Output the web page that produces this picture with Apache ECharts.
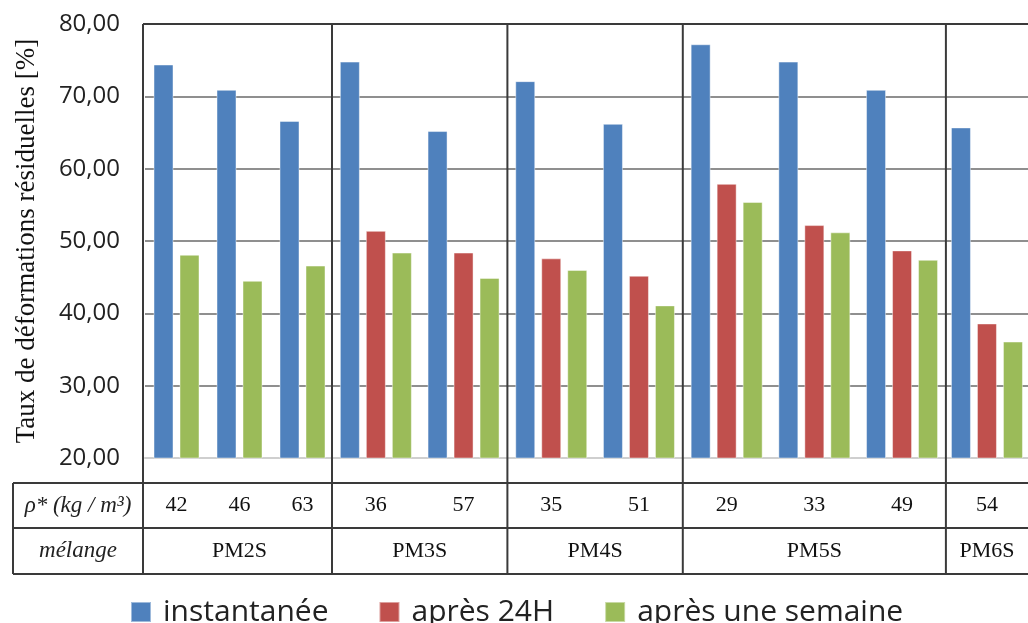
<!DOCTYPE html>
<html>
<head>
<meta charset="utf-8">
<script src="https://cdn.jsdelivr.net/npm/echarts@6/dist/echarts.min.js"></script>
<style>html,body{margin:0;padding:0;background:#fff}#c{width:1028px;height:623px}</style>
</head>
<body>
<div id="c"></div>
<script>
// ---- data ----
const groups = ['PM2S', 'PM3S', 'PM4S', 'PM5S', 'PM6S'];
const groupSizes = [3, 2, 2, 3, 1];
const densities = ['42', '46', '63', '36', '57', '35', '51', '29', '33', '49', '54'];
const instantanee  = [74.4, 70.9, 66.6, 74.8, 65.2, 72.1, 66.2, 77.2, 74.8, 70.9, 65.7];
const apres24H     = [null, null, null, 51.4, 48.4, 47.6, 45.2, 57.9, 52.2, 48.7, 38.6];
const apresSemaine = [48.1, 44.5, 46.6, 48.4, 44.9, 46.0, 41.1, 55.4, 51.2, 47.4, 36.1];
const seriesNames = ['instantanée', 'après 24H', 'après une semaine'];
const yMin = 20, yMax = 80, yStep = 10;
const yTitle = 'Taux de déformations résiduelles [%]';
const rowTitles = ['ρ* (kg / m³)', 'mélange'];

// ---- layout / style ----
const colors = ['#4F81BD', '#C0504D', '#9BBB59'];
const plotLeft = 143, plotTop = 24, plotBottom = 458;
const slotW3 = 87.7, slotW2 = 63;
const tableLeft = 13, rowLines = [483, 528, 574], rightEdge = 1028;
const lineColor = '#3a3a3a';
const serif = '"Liberation Serif", "Times New Roman", serif';

const allVals = [instantanee, apres24H, apresSemaine];
const grids = [], xAxes = [], yAxes = [], series = [];
const boundaries = [];
let x = plotLeft, start = 0;
groups.forEach((g, gi) => {
  const n = groupSizes[gi];
  const cats = densities.slice(start, start + n);
  const present = [];
  allVals.forEach((arr, si) => {
    const part = arr.slice(start, start + n);
    if (part.some(v => v != null)) present.push({ si, part });
  });
  const w = n * (present.length === 3 ? slotW3 : slotW2);
  const shift = present.length === 3 ? 0 : 2;
  grids.push({ left: x + shift, top: plotTop, width: w, height: plotBottom - plotTop });
  xAxes.push({
    type: 'category', gridIndex: gi, data: cats,
    axisTick: { show: false },
    axisLine: { show: true, lineStyle: { color: '#cfcfcf', width: 2 } },
    axisLabel: { margin: 36, fontFamily: serif, fontSize: 22, color: '#111' },
    name: g, nameLocation: 'middle', nameGap: 82,
    nameTextStyle: { fontFamily: serif, fontSize: 22, color: '#111' }
  });
  yAxes.push({
    type: 'value', gridIndex: gi, min: yMin, max: yMax, interval: yStep,
    axisLine: { show: false }, axisTick: { show: false },
    splitLine: { lineStyle: { color: '#8f8f8f', width: 2 } },
    axisLabel: gi === 0 ? {
      margin: 25, fontFamily: '"Open Sans", sans-serif', fontSize: 24, color: '#222',
      formatter: v => v.toFixed(2).replace('.', ',')
    } : { show: false },
    name: gi === 0 ? yTitle : '',
    nameLocation: 'middle', nameGap: 105,
    nameTextStyle: { fontFamily: serif, fontSize: 27, color: '#111' }
  });
  present.forEach(p => {
    series.push({
      type: 'bar', name: seriesNames[p.si], data: p.part,
      xAxisIndex: gi, yAxisIndex: gi,
      barWidth: 20, barGap: '30%',
      itemStyle: { color: colors[p.si], borderColor: 'rgba(255,255,255,0.45)', borderWidth: 1 }
    });
  });
  x += w;
  boundaries.push(x);
  start += n;
});

const lines = [];
function L(x1, y1, x2, y2) {
  lines.push({ type: 'line', z: 100, shape: { x1, y1, x2, y2 }, style: { stroke: lineColor, lineWidth: 2 } });
}
L(plotLeft, plotTop, rightEdge, plotTop);
L(plotLeft, plotTop, plotLeft, rowLines[2]);
boundaries.slice(0, -1).forEach(b => L(b, plotTop, b, rowLines[2]));
rowLines.forEach(y => L(tableLeft, y, rightEdge, y));
L(tableLeft, rowLines[0], tableLeft, rowLines[2]);
const texts = rowTitles.map((t, i) => ({
  type: 'text', z: 100,
  x: (tableLeft + plotLeft) / 2, y: (rowLines[i] + rowLines[i + 1]) / 2,
  style: { text: t, fontFamily: serif, fontStyle: 'italic', fontSize: 23, fill: '#222', align: 'center', verticalAlign: 'middle' }
}));

const chart = echarts.init(document.getElementById('c'));
chart.setOption({
  animation: false,
  color: colors,
  grid: grids, xAxis: xAxes, yAxis: yAxes, series,
  legend: {
    data: seriesNames, left: 125, top: 592, itemWidth: 20, itemHeight: 20, itemGap: 50,
    icon: 'rect',
    textStyle: { fontFamily: '"Open Sans", sans-serif', fontSize: 30, color: '#222', padding: [0, 0, 0, 7], lineHeight: 30 }
  },
  graphic: lines.concat(texts)
});
</script>
</body>
</html>
